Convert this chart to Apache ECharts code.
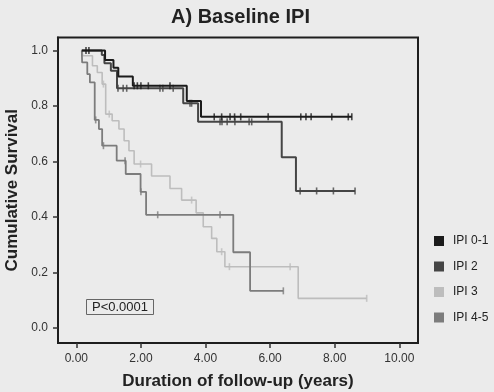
<!DOCTYPE html>
<html>
<head>
<meta charset="utf-8">
<script src="https://cdn.jsdelivr.net/npm/echarts@6/dist/echarts.min.js"></script>
<style>
  html, body { margin: 0; padding: 0; background: #ebebeb; }
  #chart { width: 494px; height: 392px; }
</style>
</head>
<body>
<div id="chart"></div>
<script>
// Kaplan-Meier survival by baseline IPI group
const groups = ['IPI 0-1', 'IPI 2', 'IPI 3', 'IPI 4-5'];

// event times (years) and survival after each step
const ipi01Times = [0.17, 0.89, 1.15, 1.30, 1.75, 3.42, 3.86, 8.53];
const ipi01Surv  = [1.0, 0.966, 0.938, 0.906, 0.873, 0.818, 0.761, 0.761];
const ipi01Cens  = [0.30, 0.39, 1.79, 1.89, 2.00, 2.23, 2.90, 4.27, 4.50, 4.76, 4.90, 5.09, 5.94, 6.95, 7.11, 7.27, 7.91, 8.42, 8.53];

const ipi2Times = [0.17, 0.79, 0.87, 1.07, 1.26, 3.31, 3.77, 6.36, 6.80, 8.63];
const ipi2Surv  = [1.0, 0.984, 0.954, 0.927, 0.864, 0.810, 0.743, 0.615, 0.494, 0.494];
const ipi2Cens  = [1.29, 1.45, 1.56, 2.59, 2.68, 3.00, 3.52, 3.57, 4.45, 4.51, 4.67, 4.91, 5.35, 5.43, 6.93, 7.44, 7.96, 8.63];

const ipi3Times = [0.17, 0.20, 0.50, 0.65, 0.80, 0.91, 1.11, 1.32, 1.48, 1.63, 1.79, 2.33, 2.90, 3.26, 3.71, 3.93, 4.19, 4.35, 4.60, 6.87, 8.99];
const ipi3Surv  = [1.0, 0.981, 0.945, 0.921, 0.879, 0.771, 0.747, 0.717, 0.675, 0.639, 0.591, 0.548, 0.503, 0.461, 0.415, 0.365, 0.323, 0.275, 0.221, 0.107, 0.107];
const ipi3Cens  = [0.84, 1.02, 1.99, 3.57, 4.50, 4.74, 6.62, 8.99];

const ipi45Times = [0.17, 0.18, 0.34, 0.42, 0.57, 0.70, 0.80, 1.25, 1.53, 1.99, 2.16, 4.86, 5.38, 6.41];
const ipi45Surv  = [1.0, 0.957, 0.915, 0.885, 0.750, 0.717, 0.657, 0.603, 0.555, 0.491, 0.408, 0.273, 0.134, 0.134];
const ipi45Cens  = [0.60, 0.84, 1.51, 2.00, 2.52, 4.45, 6.41];

const xTicks = [0, 2, 4, 6, 8, 10];
const yTicks = [0, 0.2, 0.4, 0.6, 0.8, 1.0];
const pValueText = 'P<0.0001';

const colors = { 'IPI 0-1': '#1b1b1b', 'IPI 2': '#454545', 'IPI 3': '#bdbdbd', 'IPI 4-5': '#7c7c7c' };
const widths = { 'IPI 0-1': 2, 'IPI 2': 2, 'IPI 3': 1.6, 'IPI 4-5': 1.8 };

const curves = {
  'IPI 0-1': [ipi01Times, ipi01Surv, ipi01Cens],
  'IPI 2': [ipi2Times, ipi2Surv, ipi2Cens],
  'IPI 3': [ipi3Times, ipi3Surv, ipi3Cens],
  'IPI 4-5': [ipi45Times, ipi45Surv, ipi45Cens]
};

// survival level of a step curve at time t
function survAt(times, surv, t) {
  let s = surv[0];
  for (let i = 0; i < times.length; i++) {
    if (times[i] <= t + 1e-9) s = surv[i]; else break;
  }
  return s;
}

const FONT = 'Liberation Sans, Arial, sans-serif';
const drawOrder = ['IPI 3', 'IPI 4-5', 'IPI 2', 'IPI 0-1'];
const series = [];
drawOrder.forEach((name, k) => {
  const [times, surv, cens] = curves[name];
  series.push({
    name: name,
    type: 'line',
    step: 'end',
    symbol: 'none',
    z: 2 + k,
    data: times.map((t, i) => [t, surv[i]]),
    lineStyle: { color: colors[name], width: widths[name] },
    itemStyle: { color: colors[name] },
    animation: false
  });
  series.push({
    name: name + ' censored',
    type: 'scatter',
    symbol: 'rect',
    symbolSize: [1.6, 7],
    z: 2 + k,
    data: cens.map(t => [t, survAt(times, surv, t)]),
    itemStyle: { color: colors[name] },
    animation: false,
    silent: true
  });
});

const chart = echarts.init(document.getElementById('chart'), null, { renderer: 'canvas' });
chart.setOption({
  backgroundColor: '#ebebeb',
  animation: false,
  textStyle: { fontFamily: FONT },
  title: {
    text: 'A) Baseline IPI',
    left: 166, top: 2,
    textStyle: { fontSize: 20, fontWeight: 'bold', color: '#222', fontFamily: FONT }
  },
  grid: {
    left: 58, right: 76, top: 37.5, bottom: 49,
    outerBoundsMode: 'none',
    containLabel: false,
    show: true, borderColor: '#1e1e1e', borderWidth: 2, backgroundColor: 'transparent'
  },
  legend: {
    data: groups,
    orient: 'vertical',
    left: 429, top: 230,
    itemWidth: 10, itemHeight: 10, itemGap: 13.5,
    icon: 'rect',
    textStyle: { fontSize: 12, color: '#222', padding: [0, 0, 0, 4] }
  },
  xAxis: {
    type: 'value',
    min: -0.567, max: 10.579,
    name: 'Duration of follow-up (years)',
    nameLocation: 'middle', nameGap: 30,
    nameTextStyle: { fontSize: 17, fontWeight: 'bold', color: '#222' },
    splitLine: { show: false },
    axisLine: { show: true, onZero: false, lineStyle: { color: '#1e1e1e', width: 2 } },
    axisTick: { show: true, length: 5, customValues: xTicks, lineStyle: { color: '#333', width: 1.5 } },
    axisLabel: { customValues: xTicks, formatter: v => v.toFixed(2), fontSize: 12, color: '#333', margin: 10 }
  },
  yAxis: {
    type: 'value',
    min: -0.054, max: 1.047,
    name: 'Cumulative Survival',
    nameLocation: 'middle', nameGap: 32,
    nameTextStyle: { fontSize: 17, fontWeight: 'bold', color: '#222' },
    splitLine: { show: false },
    axisLine: { show: true, onZero: false, lineStyle: { color: '#1e1e1e', width: 2 } },
    axisTick: { show: true, length: 5, customValues: yTicks, lineStyle: { color: '#333', width: 1.5 } },
    axisLabel: { customValues: yTicks, formatter: v => v.toFixed(1), fontSize: 12, color: '#333', margin: 10 }
  },
  graphic: [{
    type: 'group',
    left: 86, top: 299,
    children: [
      { type: 'rect', shape: { x: 0, y: 0, width: 67, height: 15 },
        style: { fill: 'transparent', stroke: '#666', lineWidth: 1 } },
      { type: 'text', x: 33.5, y: 8, style: { text: pValueText, fontSize: 13, fill: '#222',
        align: 'center', verticalAlign: 'middle', fontFamily: FONT } }
    ]
  }],
  series: series
});
</script>
</body>
</html>
